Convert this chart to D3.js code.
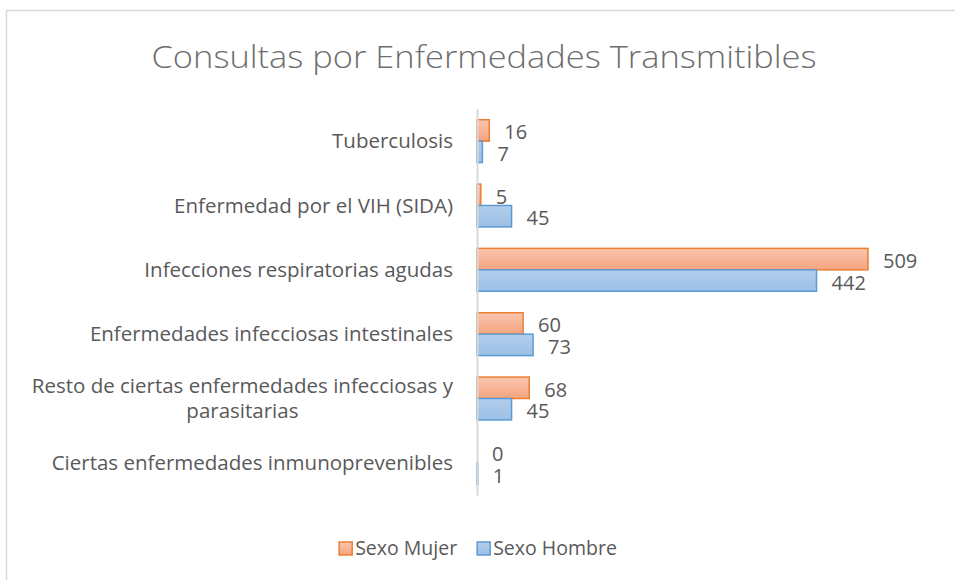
<!DOCTYPE html>
<html>
<head>
<meta charset="utf-8">
<script src="https://cdn.jsdelivr.net/npm/d3@7"></script>
<style>
  body { margin: 0; background: #fff; }
  text { font-family: "Open Sans", sans-serif; fill: #595959; }
</style>
</head>
<body>
<div id="chart"></div>
<script>
// data
var categories = [
  "Tuberculosis",
  "Enfermedad por el VIH (SIDA)",
  "Infecciones respiratorias agudas",
  "Enfermedades infecciosas intestinales",
  "Resto de ciertas enfermedades infecciosas y|parasitarias",
  "Ciertas enfermedades inmunoprevenibles"
];
var series = ["Sexo Mujer", "Sexo Hombre"];
var mujer = [16, 5, 509, 60, 68, 0];
var hombre = [7, 45, 442, 73, 45, 1];

var W = 955, H = 580;
var svg = d3.select("#chart")
  .append("svg")
    .attr("width", W)
    .attr("height", H);

// gradients
var defs = svg.append("defs");
function grad(id, top, bottom) {
  var g = defs.append("linearGradient")
    .attr("id", id)
    .attr("x1", 0).attr("y1", 0)
    .attr("x2", 0).attr("y2", 1);
  g.append("stop").attr("offset", "0%").attr("stop-color", top);
  g.append("stop").attr("offset", "100%").attr("stop-color", bottom);
}
grad("gMujer", "#F9C6AE", "#F4A47F");
grad("gHombre", "#B3CEEC", "#9BBFE5");

var fills = { "Sexo Mujer": "url(#gMujer)", "Sexo Hombre": "url(#gHombre)" };
var strokes = { "Sexo Mujer": "#ED7D31", "Sexo Hombre": "#5B9BD5" };

// chart frame
svg.append("rect")
  .attr("x", 6.5)
  .attr("y", 10.5)
  .attr("width", 980)
  .attr("height", 600)
  .attr("fill", "none")
  .attr("stroke", "#D9D9D9")
  .attr("stroke-width", 1.5);

// title
svg.append("text")
  .attr("x", 484)
  .attr("y", 68)
  .attr("text-anchor", "middle")
  .attr("font-size", 31)
  .attr("font-weight", 300)
  .attr("textLength", 665)
  .attr("lengthAdjust", "spacingAndGlyphs")
  .style("fill", "#6E6E6E")
  .text("Consultas por Enfermedades Transmitibles");

var x = d3.scaleLinear()
  .domain([0, d3.max(mujer.concat(hombre))])
  .range([477, 868]);

var y = d3.scaleBand()
  .domain(categories)
  .range([109, 495])
  .padding(0);

var y1 = d3.scaleBand()
  .domain(series)
  .range([0, y.bandwidth()])
  .paddingInner(0)
  .paddingOuter(0.5);

var rows = categories.map(function(c, i) {
  return { cat: c, values: [
    { s: "Sexo Mujer", v: mujer[i] },
    { s: "Sexo Hombre", v: hombre[i] }
  ]};
});

var groups = svg.selectAll("g.cat")
  .data(rows)
  .enter().append("g")
    .attr("class", "cat")
    .attr("transform", function(d) { return "translate(0," + y(d.cat) + ")"; });

groups.selectAll("rect")
  .data(function(d) { return d.values.filter(function(e) { return e.v > 0; }); })
  .enter().append("rect")
    .attr("x", x(0))
    .attr("y", function(d) { return y1(d.s); })
    .attr("width", function(d) { return x(d.v) - x(0); })
    .attr("height", y1.bandwidth())
    .attr("fill", function(d) { return fills[d.s]; })
    .attr("stroke", function(d) { return strokes[d.s]; })
    .attr("stroke-width", 1.5);

groups.selectAll("text.val")
  .data(function(d) { return d.values; })
  .enter().append("text")
    .attr("class", "val")
    .attr("x", function(d) { return x(d.v) + 15; })
    .attr("y", function(d) { return y1(d.s) + y1.bandwidth() / 2 + 9; })
    .attr("font-size", 20)
    .text(function(d) { return d.v; });

// axis line
svg.append("g")
  .attr("transform", "translate(" + x(0) + ",0)")
  .call(d3.axisLeft(y).tickSize(0).tickFormat(""))
  .call(function(g) {
    g.select(".domain").attr("stroke", "#D9D9D9").attr("stroke-width", 2);
  });

// category labels
var labelRight = 453;
rows.forEach(function(r) {
  var lines = r.cat.split("|");
  var cy = y(r.cat) + y.bandwidth() / 2;
  var lh = 25;
  var t = svg.append("text")
    .attr("font-size", 20.5)
    .attr("text-anchor", "middle");
  var spans = lines.map(function(l, k) {
    return t.append("tspan")
      .attr("y", cy + (k - (lines.length - 1) / 2) * lh + 7)
      .text(l);
  });
  var maxW = d3.max(spans, function(s) { return s.node().getComputedTextLength(); });
  spans.forEach(function(s) { s.attr("x", labelRight - maxW / 2); });
});

// legend
var legend = svg.append("g");
var lx = 0;
series.forEach(function(s, i) {
  var g = legend.append("g").attr("transform", "translate(" + lx + ",0)");
  g.append("rect")
    .attr("x", 0).attr("y", -13)
    .attr("width", 13).attr("height", 13)
    .attr("fill", fills[s])
    .attr("stroke", strokes[s])
    .attr("stroke-width", 1.5);
  var t = g.append("text")
    .attr("x", 16)
    .attr("y", 0)
    .attr("font-size", 19.5)
    .text(s);
  lx += 16 + t.node().getComputedTextLength() + 20;
});
var lw = lx - 20;
legend.attr("transform", "translate(" + (478 - lw / 2) + ",555)");
</script>
</body>
</html>
